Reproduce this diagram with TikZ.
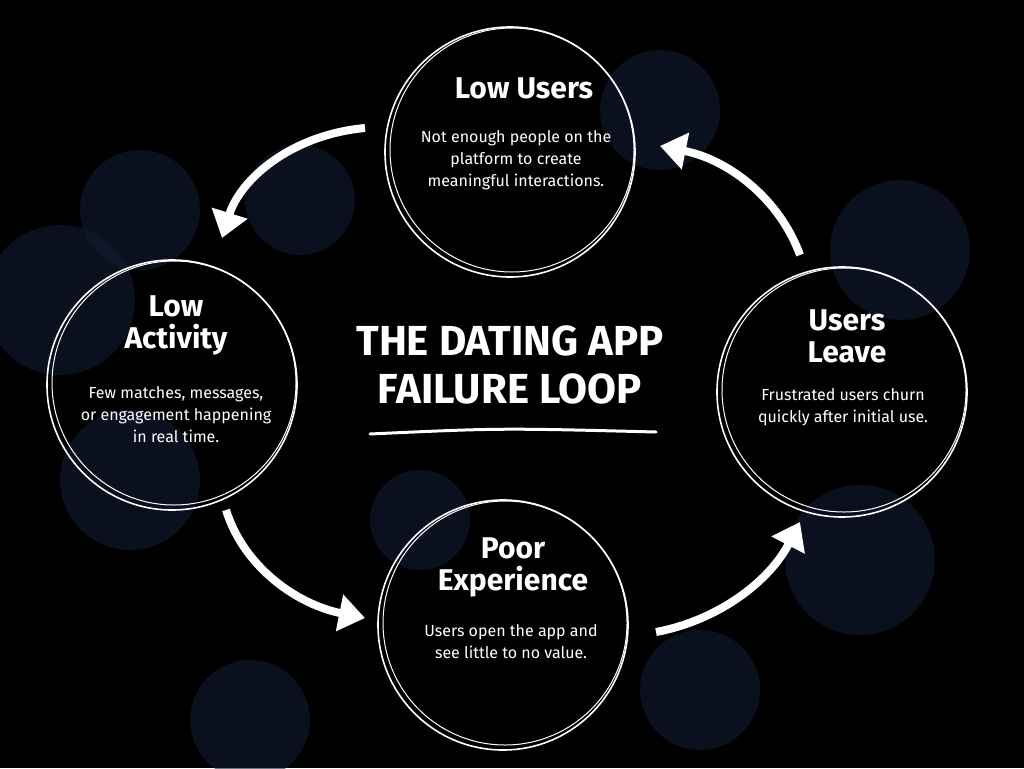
\documentclass[tikz,border=0pt]{standalone}
\usepackage{fontspec}
\setmainfont{Fira Sans}
\usetikzlibrary{arrows.meta}
\definecolor{blob}{HTML}{121B33}
\tikzset{
  ring/.style={draw=white,line width=1.6pt},
  flow/.style={white,line width=8pt,-{Triangle[length=26pt,width=36pt]}},
  head/.style={font=\bfseries\fontsize{30}{32}\selectfont,text=white,align=center},
  body/.style={font=\fontsize{16}{22}\selectfont,text=white,align=center}
}
\begin{document}
\begin{tikzpicture}[x=1pt,y=-1pt]
	\useasboundingbox (0,0) rectangle (1024,768);
	\clip (0,0) rectangle (1024,768);
	\fill[black] (0,0) rectangle (1024,768);
	% bokeh blobs
	\foreach \cx/\cy/\r in {60/300/75, 140/210/60, 300/200/55, 660/110/60, 900/250/70, 860/560/75, 250/720/60, 700/690/60, 130/480/70, 420/520/50}
		\fill[blob,opacity=0.6] (\cx,\cy) circle (\r);
	% rings
	\coordinate (U) at (510,152);
	\coordinate (A) at (172,385);
	\coordinate (L) at (842,392);
	\coordinate (P) at (503,625);
	\foreach \c in {U,A,L,P} {
		\draw[ring] (\c) circle (125);
		\draw[ring,line width=1pt] ([shift={(2,-2)}]\c) circle (122);
	}
	\node[head] (uh) at (524,88) {Low Users};
	\node[body] (ub) at (516,160) {Not enough people on the\\platform to create\\meaningful interactions.};
	\node[head] (ah) at (176,325) {Low\\Activity};
	\node[body] (ab) at (176,415) {Few matches, messages,\\or engagement happening\\in real time.};
	\node[head] (lh) at (847,336) {Users\\Leave};
	\node[body] (lb) at (843,407) {Frustrated users churn\\quickly after initial use.};
	\node[head] (ph) at (513,567) {Poor\\Experience};
	\node[body] (pb) at (511,642) {Users open the app and\\see little to no value.};
	\node[head,font=\bfseries\fontsize{42}{48}\selectfont] (title) at (510,365) {THE DATING APP\\FAILURE LOOP};
	\draw[white,line width=3pt,line cap=round] (370,434) .. controls (500,428) .. (656,432);
	% arrows
	\draw[flow] (365,128) .. controls (290,135) and (240,180) .. (222,238);
	\draw[flow] (226,510) .. controls (245,570) and (300,605) .. (365,618);
	\draw[flow] (656,632) .. controls (720,620) and (770,580) .. (800,522);
	\draw[flow] (800,255) .. controls (780,200) and (730,160) .. (660,146);
\end{tikzpicture}
\end{document}
